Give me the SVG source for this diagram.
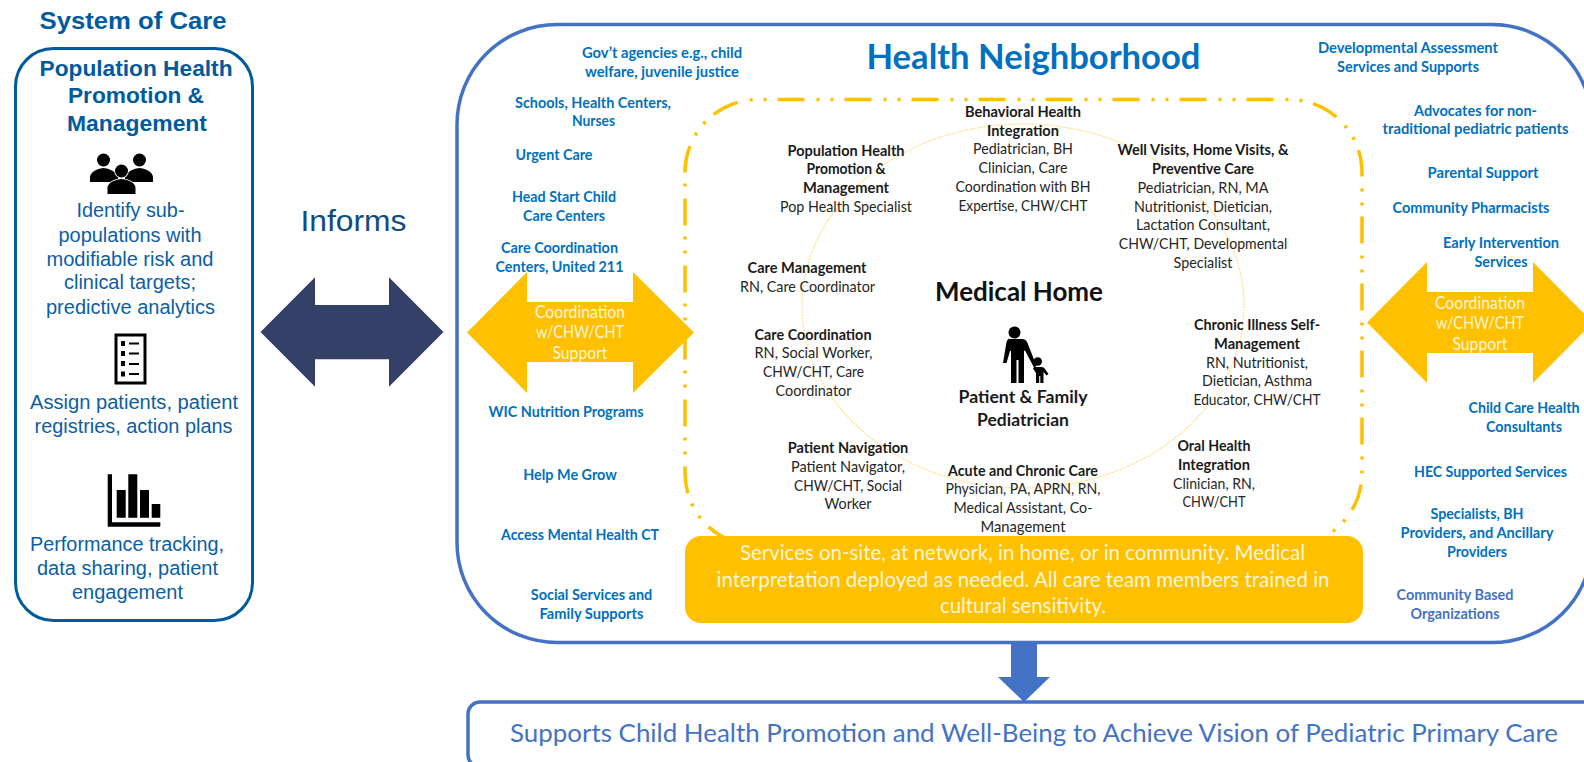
<svg xmlns="http://www.w3.org/2000/svg" width="1584" height="762" viewBox="0 0 1584 762">
<style>
text{text-anchor:middle;font-family:"Lato","Carlito","Open Sans",sans-serif;font-size:15px}
.s{font-family:"Liberation Sans",Arial,sans-serif;fill:#0B5EA6;font-size:19.500px}
.sb{font-family:"Liberation Sans",Arial,sans-serif;fill:#005A9E;font-size:22px;font-weight:700}
.b{fill:#0070C0;font-weight:700}
.c{fill:#4472C4;font-weight:700}
.k{fill:#262626}
.h{fill:#1a1a1a;font-weight:700}
.w{fill:#FFF6DC;font-size:17.500px}
.o{fill:#FFF6DC;font-size:21px}
.ar{fill:#FFC000}
.frame{fill:none;stroke:#4472C4;stroke-width:3.5}
.dd{fill:none;stroke:#FFC000;stroke-width:3.5;stroke-dasharray:27 12 3 11 3 11}
</style>
<rect width="1584" height="762" fill="#fff"/>

<g id="system-of-care">
<rect x="15.500" y="48.500" width="237" height="572" rx="38" fill="none" stroke="#005A9E" stroke-width="3"/>
<text class="sb" x="133" y="29" style="font-size:24.500px" textLength="187" lengthAdjust="spacingAndGlyphs">System of Care</text>
<text class="sb" x="136" y="76" textLength="193" lengthAdjust="spacingAndGlyphs">Population Health</text>
<text class="sb" x="136" y="103" textLength="136" lengthAdjust="spacingAndGlyphs">Promotion &amp;</text>
<text class="sb" x="137" y="131" textLength="140" lengthAdjust="spacingAndGlyphs">Management</text>
<text class="s" x="130.500" y="217" textLength="108" lengthAdjust="spacingAndGlyphs">Identify sub-</text>
<text class="s" x="130" y="241.500" textLength="143" lengthAdjust="spacingAndGlyphs">populations with</text>
<text class="s" x="130" y="266" textLength="167" lengthAdjust="spacingAndGlyphs">modifiable risk and</text>
<text class="s" x="130" y="289" textLength="132" lengthAdjust="spacingAndGlyphs">clinical targets;</text>
<text class="s" x="130.500" y="314" textLength="169" lengthAdjust="spacingAndGlyphs">predictive analytics</text>
<text class="s" x="134" y="408.500" textLength="208" lengthAdjust="spacingAndGlyphs">Assign patients, patient</text>
<text class="s" x="133.500" y="433" textLength="198" lengthAdjust="spacingAndGlyphs">registries, action plans</text>
<text class="s" x="127" y="550.500" textLength="194" lengthAdjust="spacingAndGlyphs">Performance tracking,</text>
<text class="s" x="127.500" y="575" textLength="181" lengthAdjust="spacingAndGlyphs">data sharing, patient</text>
<text class="s" x="127.500" y="599" textLength="111" lengthAdjust="spacingAndGlyphs">engagement</text>
<g id="icon-people" fill="#000">
<circle cx="103.500" cy="160" r="6.500"/><circle cx="139.500" cy="160" r="6.500"/>
<path d="M90 182v-4q0-5 5-7.500 4-2.500 8.500-2.500t8.500 2.500q4 2 6 5v6.500z"/>
<path d="M153 182v-4q0-5-5-7.500-4-2.500-8.500-2.500t-8.500 2.500q-4 2-6 5v6.500z"/>
<g stroke="#fff" stroke-width="1.500" paint-order="stroke">
<circle cx="121.500" cy="171" r="6.500"/>
<path d="M107.500 194v-6q0-4 5-6.500 4-2.500 9-2.500t9 2.500q5 2.500 5 6.500v6z"/>
</g>
</g>
<g id="icon-list">
<rect x="116" y="335" width="29" height="48" fill="none" stroke="#000" stroke-width="3"/>
<path d="M121 341h4v5h-4zM121 351h4v5h-4zM121 361h4v5h-4zM121 371.500h4v5h-4zM129 342.500h10v2h-10zM129 352.500h10v2h-10zM129 363h10v2h-10zM129 373h10v2h-10z"/>
</g>
<g id="icon-chart">
<path d="M107.700 474.300h4.300v48h48.300v4.400h-52.600zM116.700 490h9v27.700h-9zM128.300 474.300h9v43.400h-9zM140 490h9v27.700h-9zM151.700 504h8.600v13.700h-8.600z"/>
</g>
</g>

<g id="connectors">
<path id="informs-arrow" d="M260.500 332L315 277.300V305H389V277.300L443.500 332L389 386.700V359.300H315V386.700Z" fill="#344068"/>
<path id="down-arrow" d="M1011 643H1037V677H1050L1024 702L998 677H1011Z" fill="#4472C4"/>
</g>
<text id="informs" x="353.500" y="230.500" style="font-family:'Liberation Sans',Arial,sans-serif;font-size:30px;fill:#0F4C81" textLength="106" lengthAdjust="spacingAndGlyphs">Informs</text>

<g id="health-neighborhood">
<rect class="frame" x="457" y="24.500" width="1135" height="618" rx="100"/>
<text x="1033.500" y="69" style="font-size:35px;font-weight:700;fill:#0070C0" textLength="334" lengthAdjust="spacingAndGlyphs">Health Neighborhood</text>
<text class="b" x="662" y="58" textLength="160" lengthAdjust="spacingAndGlyphs">Gov’t agencies e.g., child</text>
<text class="b" x="662" y="77" textLength="154" lengthAdjust="spacingAndGlyphs">welfare, juvenile justice</text>
<text class="b" x="593" y="108" textLength="156" lengthAdjust="spacingAndGlyphs">Schools, Health Centers,</text>
<text class="b" x="593.500" y="126" textLength="43" lengthAdjust="spacingAndGlyphs">Nurses</text>
<text class="b" x="554" y="160" textLength="77" lengthAdjust="spacingAndGlyphs">Urgent Care</text>
<text class="b" x="564" y="202" textLength="104" lengthAdjust="spacingAndGlyphs">Head Start Child</text>
<text class="b" x="564" y="221" textLength="82" lengthAdjust="spacingAndGlyphs">Care Centers</text>
<text class="b" x="559.500" y="253" textLength="117" lengthAdjust="spacingAndGlyphs">Care Coordination</text>
<text class="b" x="559.500" y="272" textLength="128" lengthAdjust="spacingAndGlyphs">Centers, United 211</text>
<text class="b" x="566" y="417" textLength="155" lengthAdjust="spacingAndGlyphs">WIC Nutrition Programs</text>
<text class="b" x="570" y="480" textLength="93.500" lengthAdjust="spacingAndGlyphs">Help Me Grow</text>
<text class="b" x="580" y="540" textLength="158" lengthAdjust="spacingAndGlyphs">Access Mental Health CT</text>
<text class="b" x="591.500" y="600" textLength="121.500" lengthAdjust="spacingAndGlyphs">Social Services and</text>
<text class="b" x="591.500" y="619" textLength="104" lengthAdjust="spacingAndGlyphs">Family Supports</text>
<text class="b" x="1408" y="53" textLength="180" lengthAdjust="spacingAndGlyphs">Developmental Assessment</text>
<text class="b" x="1408" y="72" textLength="142" lengthAdjust="spacingAndGlyphs">Services and Supports</text>
<text class="b" x="1475.500" y="116" textLength="123" lengthAdjust="spacingAndGlyphs">Advocates for non-</text>
<text class="b" x="1475.500" y="134" textLength="186" lengthAdjust="spacingAndGlyphs">traditional pediatric patients</text>
<text class="b" x="1483" y="178" textLength="111" lengthAdjust="spacingAndGlyphs">Parental Support</text>
<text class="b" x="1471" y="213" textLength="157" lengthAdjust="spacingAndGlyphs">Community Pharmacists</text>
<text class="b" x="1501" y="248" textLength="116" lengthAdjust="spacingAndGlyphs">Early Intervention</text>
<text class="b" x="1501" y="267" textLength="53" lengthAdjust="spacingAndGlyphs">Services</text>
<text class="b" x="1524" y="413" textLength="111" lengthAdjust="spacingAndGlyphs">Child Care Health</text>
<text class="b" x="1524" y="432" textLength="76" lengthAdjust="spacingAndGlyphs">Consultants</text>
<text class="b" x="1490.500" y="477" textLength="153" lengthAdjust="spacingAndGlyphs">HEC Supported Services</text>
<text class="b" x="1477" y="519" textLength="93" lengthAdjust="spacingAndGlyphs">Specialists, BH</text>
<text class="b" x="1477" y="538" textLength="153" lengthAdjust="spacingAndGlyphs">Providers, and Ancillary</text>
<text class="b" x="1477" y="557" textLength="60" lengthAdjust="spacingAndGlyphs">Providers</text>
<text class="c" x="1455" y="600" textLength="117" lengthAdjust="spacingAndGlyphs">Community Based</text>
<text class="c" x="1455" y="619" textLength="89" lengthAdjust="spacingAndGlyphs">Organizations</text>
</g>

<g id="medical-home">
<ellipse cx="1023" cy="306" rx="221" ry="182" fill="none" stroke="#FFE08A" stroke-width="1.200" stroke-dasharray="2 1"/>
<path class="dd" d="M685 172.500A73 73 0 0 1 758 99.500H1289A73 73 0 0 1 1362 172.500V473A73 73 0 0 1 1289 546H1000"/>
<path class="dd" style="stroke-dasharray:27 11 3 11 3 12;stroke-dashoffset:41" d="M685 172.500V473A73 73 0 0 0 758 546H1000"/>
<text x="1019" y="300.500" style="font-size:26px;font-weight:700;fill:#111" textLength="168" lengthAdjust="spacingAndGlyphs">Medical Home</text>
<g id="icon-family" fill="#000">
<circle cx="1014.500" cy="332.500" r="6"/>
<path d="M1007 339h15q4 0 5.500 4l9 23-2.500 1.500-9-17-1 .5v32h-5.500v-23h-2v23h-5.500v-32h-1l-3.500 12h-3.500l3.500-21q1-3.500 4-3.500z"/>
<circle cx="1037.700" cy="361.500" r="4.300"/>
<path d="M1034 367h7.500q2.500 0 3.500 2l3.500 5-2 1.500-3-3.500v11h-3.200v-7h-1.100v7h-3.200v-10l-3-4.500z"/>
</g>
<text class="h" x="1023" y="403" style="font-size:16.500px" textLength="129" lengthAdjust="spacingAndGlyphs">Patient &amp; Family</text>
<text class="h" x="1023" y="426" style="font-size:16.500px" textLength="92" lengthAdjust="spacingAndGlyphs">Pediatrician</text>

<text class="h" x="1023" y="117" textLength="116" lengthAdjust="spacingAndGlyphs">Behavioral Health</text>
<text class="h" x="1023" y="136" textLength="72" lengthAdjust="spacingAndGlyphs">Integration</text>
<text class="k" x="1023" y="154" textLength="100" lengthAdjust="spacingAndGlyphs">Pediatrician, BH</text>
<text class="k" x="1023" y="173" textLength="89" lengthAdjust="spacingAndGlyphs">Clinician, Care</text>
<text class="k" x="1023" y="192" textLength="135" lengthAdjust="spacingAndGlyphs">Coordination with BH</text>
<text class="k" x="1023" y="211" textLength="129" lengthAdjust="spacingAndGlyphs">Expertise, CHW/CHT</text>

<text class="h" x="1203" y="155" textLength="171" lengthAdjust="spacingAndGlyphs">Well Visits, Home Visits, &amp;</text>
<text class="h" x="1203" y="174" textLength="102" lengthAdjust="spacingAndGlyphs">Preventive Care</text>
<text class="k" x="1203" y="193" textLength="131" lengthAdjust="spacingAndGlyphs">Pediatrician, RN, MA</text>
<text class="k" x="1203" y="212" textLength="138" lengthAdjust="spacingAndGlyphs">Nutritionist, Dietician,</text>
<text class="k" x="1203" y="230" textLength="134" lengthAdjust="spacingAndGlyphs">Lactation Consultant,</text>
<text class="k" x="1203" y="249" textLength="168.500" lengthAdjust="spacingAndGlyphs">CHW/CHT, Developmental</text>
<text class="k" x="1203" y="268" textLength="59" lengthAdjust="spacingAndGlyphs">Specialist</text>

<text class="h" x="1257" y="330" textLength="126" lengthAdjust="spacingAndGlyphs">Chronic Illness Self-</text>
<text class="h" x="1257" y="349" textLength="86" lengthAdjust="spacingAndGlyphs">Management</text>
<text class="k" x="1257" y="368" textLength="102" lengthAdjust="spacingAndGlyphs">RN, Nutritionist,</text>
<text class="k" x="1257" y="386" textLength="110" lengthAdjust="spacingAndGlyphs">Dietician, Asthma</text>
<text class="k" x="1257" y="405" textLength="127" lengthAdjust="spacingAndGlyphs">Educator, CHW/CHT</text>

<text class="h" x="846" y="156" textLength="117" lengthAdjust="spacingAndGlyphs">Population Health</text>
<text class="h" x="846" y="174" textLength="79" lengthAdjust="spacingAndGlyphs">Promotion &amp;</text>
<text class="h" x="846" y="193" textLength="86" lengthAdjust="spacingAndGlyphs">Management</text>
<text class="k" x="846" y="212" textLength="132" lengthAdjust="spacingAndGlyphs">Pop Health Specialist</text>

<text class="h" x="807" y="273" textLength="119" lengthAdjust="spacingAndGlyphs">Care Management</text>
<text class="k" x="807.500" y="292" textLength="135" lengthAdjust="spacingAndGlyphs">RN, Care Coordinator</text>

<text class="h" x="813" y="340" textLength="117" lengthAdjust="spacingAndGlyphs">Care Coordination</text>
<text class="k" x="813.500" y="358" textLength="118" lengthAdjust="spacingAndGlyphs">RN, Social Worker,</text>
<text class="k" x="813.500" y="377" textLength="101" lengthAdjust="spacingAndGlyphs">CHW/CHT, Care</text>
<text class="k" x="813.500" y="396" textLength="76" lengthAdjust="spacingAndGlyphs">Coordinator</text>

<text class="h" x="848" y="453" textLength="120.500" lengthAdjust="spacingAndGlyphs">Patient Navigation</text>
<text class="k" x="848" y="472" textLength="114" lengthAdjust="spacingAndGlyphs">Patient Navigator,</text>
<text class="k" x="848" y="491" textLength="108" lengthAdjust="spacingAndGlyphs">CHW/CHT, Social</text>
<text class="k" x="848" y="509" textLength="47" lengthAdjust="spacingAndGlyphs">Worker</text>

<text class="h" x="1023" y="476" textLength="150" lengthAdjust="spacingAndGlyphs">Acute and Chronic Care</text>
<text class="k" x="1023" y="494" textLength="155" lengthAdjust="spacingAndGlyphs">Physician, PA, APRN, RN,</text>
<text class="k" x="1023" y="513" textLength="139" lengthAdjust="spacingAndGlyphs">Medical Assistant, Co-</text>
<text class="k" x="1023" y="532" textLength="85" lengthAdjust="spacingAndGlyphs">Management</text>

<text class="h" x="1214" y="451" textLength="73" lengthAdjust="spacingAndGlyphs">Oral Health</text>
<text class="h" x="1214" y="470" textLength="72" lengthAdjust="spacingAndGlyphs">Integration</text>
<text class="k" x="1214" y="489" textLength="82" lengthAdjust="spacingAndGlyphs">Clinician, RN,</text>
<text class="k" x="1214" y="507" textLength="63" lengthAdjust="spacingAndGlyphs">CHW/CHT</text>
</g>

<g id="coordination-left">
<path class="ar" d="M467 332.500L527 272V302H633V272L694 332.500L633 393V362H527V393Z"/>
<text class="w" x="580" y="318" textLength="90" lengthAdjust="spacingAndGlyphs">Coordination</text>
<text class="w" x="580" y="338" textLength="88" lengthAdjust="spacingAndGlyphs">w/CHW/CHT</text>
<text class="w" x="580" y="359" textLength="55" lengthAdjust="spacingAndGlyphs">Support</text>
</g>
<g id="coordination-right">
<path class="ar" d="M1367 322.500L1427 262V292H1533V262L1593 322.500L1533 383V353H1427V383Z"/>
<text class="w" x="1480" y="309" textLength="90" lengthAdjust="spacingAndGlyphs">Coordination</text>
<text class="w" x="1480" y="329" textLength="88" lengthAdjust="spacingAndGlyphs">w/CHW/CHT</text>
<text class="w" x="1480" y="350" textLength="55" lengthAdjust="spacingAndGlyphs">Support</text>
</g>

<g id="services-bar">
<rect class="ar" x="685" y="536" width="678" height="87" rx="16"/>
<text class="o" x="1022.500" y="560" textLength="565" lengthAdjust="spacingAndGlyphs">Services on-site, at network, in home, or in community. Medical</text>
<text class="o" x="1023" y="587" textLength="613" lengthAdjust="spacingAndGlyphs">interpretation deployed as needed. All care team members trained in</text>
<text class="o" x="1023" y="612.500" textLength="166" lengthAdjust="spacingAndGlyphs">cultural sensitivity.</text>
</g>

<g id="vision">
<rect class="frame" x="468" y="702" width="1130" height="65" rx="12"/>
<text x="1034" y="741.500" style="font-size:25px;fill:#4472C4" textLength="1048" lengthAdjust="spacingAndGlyphs">Supports Child Health Promotion and Well-Being to Achieve Vision of Pediatric Primary Care</text>
</g>
</svg>
